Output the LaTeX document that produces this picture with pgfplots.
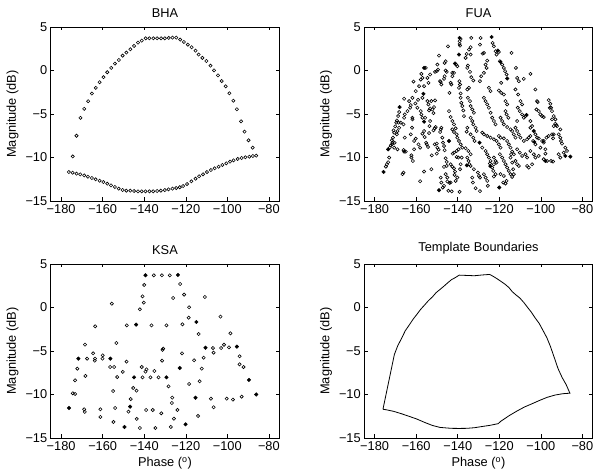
\documentclass[border=0pt]{standalone}
\usepackage{fontspec}
\setmainfont{Liberation Sans}
\usepackage{pgfplots}
\pgfplotsset{compat=1.18}

\pgfplotsset{
  mat/.style={
    scale only axis, width=228.5pt, height=174pt, anchor=south west,
    xmin=-185, xmax=-75, ymin=-15, ymax=5,
    xtick={-180,-160,-140,-120,-100,-80},
    xticklabels={−180,−160,−140,−120,−100,−80},
    ytick={-15,-10,-5,0,5},
    yticklabels={−15,−10,−5,0,5},
    xtick pos=both, ytick pos=both,
    tick align=inside, major tick length=3.5pt,
    tick style={black, line width=0.5pt},
    axis line style={black, line width=0.8pt},
    ticklabel style={font=\fontsize{12.8}{15}\selectfont},
    label style={font=\fontsize{12.8}{15}\selectfont},
    title style={font=\fontsize{12.8}{15}\selectfont},
    ylabel={Magnitude (dB)},
  },
  dots/.style={only marks, mark=o, mark size=1.6pt,
    mark options={black, line width=0.6pt}},
  fdots/.style={only marks, mark=*, mark size=1.8pt,
    mark options={black, fill=black}},
}

\begin{document}
\begin{tikzpicture}
\useasboundingbox (0,0) rectangle (597pt,470pt);

% ---------------- BHA
\begin{axis}[mat, at={(50.75pt,269pt)}, title={BHA}]
\addplot[dots] coordinates {
(-174.4,-9.88) (-172.6,-7.50) (-170.7,-5.44) (-168.9,-4.41) (-167.0,-3.53)
(-165.2,-2.65) (-163.3,-2.00) (-161.5,-1.35) (-159.6,-0.77) (-157.8,-0.20)
(-155.9,0.30) (-154.1,0.79) (-152.2,1.21) (-150.4,1.71) (-148.6,2.06)
(-146.7,2.44) (-144.9,2.82) (-143.0,3.20) (-141.2,3.43) (-139.3,3.70)
(-137.5,3.70) (-135.6,3.70) (-133.8,3.70) (-131.9,3.70) (-130.1,3.70)
(-128.2,3.74) (-126.4,3.78) (-124.6,3.78) (-122.7,3.55) (-120.9,3.28)
(-119.0,2.97) (-117.2,2.67) (-115.3,2.28) (-113.8,1.83) (-112.0,1.45)
(-110.1,1.09) (-108.1,0.55) (-106.4,0.02) (-104.5,-0.56) (-102.7,-1.21)
(-100.8,-1.82) (-99.0,-2.62) (-97.1,-3.47) (-95.4,-4.46) (-93.4,-5.84)
(-91.7,-7.03) (-89.8,-8.02) (-87.8,-8.87) (-86.1,-9.79)
};
\addplot[dots] coordinates {
(-176.3,-11.67) (-174.5,-11.75) (-172.6,-11.86) (-170.8,-11.94) (-168.9,-12.06)
(-167.1,-12.21) (-165.2,-12.36) (-163.4,-12.51) (-161.5,-12.67) (-159.7,-12.82)
(-157.8,-13.01) (-156.0,-13.20) (-154.1,-13.39) (-152.3,-13.58) (-150.4,-13.74)
(-148.6,-13.81) (-146.7,-13.81) (-144.9,-13.85) (-143.0,-13.89) (-141.2,-13.89)
(-139.4,-13.89) (-137.5,-13.89) (-135.7,-13.89) (-133.8,-13.85) (-132.0,-13.81)
(-130.1,-13.74) (-128.3,-13.66) (-126.4,-13.58) (-124.6,-13.51) (-122.9,-13.42)
(-121.3,-13.28) (-119.4,-13.05) (-117.3,-12.74) (-115.3,-12.44) (-113.6,-12.16)
(-111.7,-11.93) (-109.8,-11.67) (-107.9,-11.44) (-106.1,-11.24) (-104.2,-11.06)
(-102.4,-10.86) (-100.5,-10.67) (-98.7,-10.48) (-97.0,-10.33) (-95.0,-10.17)
(-93.1,-10.06) (-91.3,-9.98) (-89.4,-9.91) (-87.7,-9.83)
};
\end{axis}

% ---------------- FUA
\begin{axis}[mat, at={(364.25pt,269pt)}, title={FUA}]
\addplot[dots] coordinates {
(-174.6,-11.05) (-174.1,-10.78) (-173.5,-10.55) (-173.0,-10.01) (-172.7,-8.87)
(-172.2,-8.60) (-171.7,-8.03) (-171.2,-7.72) (-170.6,-7.15) (-170.9,-6.88)
(-170.1,-6.42) (-169.6,-6.00) (-169.3,-5.74) (-168.7,-5.24) (-168.2,-4.78)
(-169.0,-9.06) (-170.6,-8.87) (-171.6,-8.49) (-171.4,-8.30) (-170.4,-8.30)
(-169.3,-7.34) (-169.0,-6.96) (-168.2,-6.58) (-168.5,-6.00) (-167.4,-6.00)
(-166.6,-11.92) (-166.1,-11.73) (-166.1,-9.14) (-165.8,-9.33) (-165.0,-9.33)
(-165.5,-7.72) (-166.1,-6.19) (-165.8,-5.43) (-165.5,-5.05) (-165.8,-3.25)
(-162.6,-3.98) (-163.4,-3.52) (-164.2,-4.67) (-162.9,-4.28) (-161.8,-5.43)
(-161.8,-5.62) (-162.0,-6.58) (-162.6,-7.34) (-162.3,-9.75) (-162.3,-10.01)
(-161.6,-10.40) (-161.0,-9.06) (-161.0,-8.10) (-161.8,-3.14) (-161.3,-1.27)
(-160.2,-2.37) (-160.4,-3.79) (-159.4,-4.28) (-159.1,-3.37) (-158.6,-1.80)
(-157.8,-1.04) (-157.5,-0.39) (-157.0,-0.85) (-156.2,-1.80) (-157.0,-3.14)
(-157.8,-4.67) (-157.5,-5.05) (-157.0,-5.43) (-155.7,-5.43) (-156.2,-6.96)
(-157.0,-7.26) (-155.9,-7.65) (-155.2,-8.30) (-154.9,-8.49) (-154.3,-8.79)
(-153.8,-7.19) (-156.2,-11.62) (-158.1,-12.73) (-160.2,-7.84) (-158.9,-8.49)
(-158.1,-8.87) (-154.6,-3.52) (-154.1,-3.90) (-153.8,-4.59) (-153.3,-4.36)
(-153.3,-5.81) (-153.6,-6.39) (-155.4,0.30) (-154.6,-0.85) (-154.1,-1.42)
(-153.3,-0.46)
(-152.7,-3.52) (-152.2,-4.48) (-151.7,-4.90) (-151.4,-4.21) (-150.9,-3.44)
(-150.9,-0.16) (-150.1,-0.08) (-149.8,0.68) (-149.0,1.71) (-149.5,0.11)
(-148.5,-1.23) (-148.2,-1.34) (-147.9,-1.61) (-146.6,-0.96) (-146.3,-0.66)
(-145.8,-0.01) (-145.3,-0.16) (-146.3,0.87) (-145.8,1.06) (-151.1,-6.65)
(-151.7,-6.88) (-150.6,-6.50) (-151.1,-8.49) (-150.1,-8.41) (-149.8,-8.87)
(-149.2,-9.10) (-148.5,-7.07) (-148.2,-6.77) (-147.9,-6.58) (-147.4,-7.72)
(-147.1,-8.30) (-146.6,-8.68) (-146.3,-9.17) (-152.5,-9.75) (-150.1,-9.56)
(-152.7,-11.35) (-148.2,-12.31) (-147.9,-12.88) (-147.2,-13.45) (-146.6,-13.26)
(-145.8,-11.92) (-145.3,-10.97) (-145.3,-10.51) (-146.6,-11.08) (-145.8,-10.09)
(-145.0,-12.76) (-145.0,-12.31)
(-144.7,2.78) (-144.0,-2.57) (-143.4,-1.42) (-143.1,-1.61) (-142.6,-0.27)
(-142.6,-0.66) (-141.8,-0.27) (-140.7,0.68) (-140.2,0.49) (-139.1,3.05)
(-139.1,3.36) (-138.6,3.62) (-138.9,2.86) (-139.2,-1.23) (-138.9,-1.61)
(-139.4,-1.99) (-138.6,-2.64) (-138.6,-3.14) (-138.3,-3.71) (-137.8,-4.09)
(-137.3,-4.59) (-137.0,-5.24) (-144.2,-4.67) (-143.4,-5.35) (-142.6,-5.81)
(-141.8,-6.19) (-141.0,-6.65) (-142.6,-6.77) (-141.8,-7.07) (-140.5,-7.34)
(-140.2,-7.72) (-139.4,-8.10) (-138.6,-8.49) (-137.8,-8.87) (-139.6,-9.06)
(-140.5,-9.25) (-141.8,-9.44) (-142.4,-9.56) (-143.4,-10.78) (-142.6,-11.05)
(-141.8,-11.24) (-141.3,-11.62) (-141.5,-12.00) (-144.0,-12.92) (-143.4,-12.88)
(-141.0,-12.69) (-140.2,-12.31) (-138.9,-11.35) (-138.6,-10.78) (-138.1,-10.01)
(-140.5,-9.94) (-139.7,-10.01) (-142.9,-13.90) (-139.1,-13.95) (-144.5,-13.83)
(-136.2,1.45) (-135.7,1.90) (-134.6,2.40) (-133.8,2.67) (-133.5,3.74)
(-133.8,1.83) (-135.1,0.57) (-135.4,0.30) (-134.1,-0.16) (-133.5,-0.77)
(-132.5,-1.15) (-135.4,-2.18) (-134.6,-1.99) (-135.1,-3.14) (-134.1,-3.52)
(-133.8,-4.09) (-133.0,-4.48) (-132.2,-4.86) (-133.8,-5.43) (-133.0,-5.81)
(-132.5,-6.19) (-131.4,-6.58) (-130.9,-6.96) (-135.4,-6.58) (-135.7,-7.03)
(-133.8,-7.34) (-132.5,-7.72) (-131.9,-8.10) (-136.2,-8.94) (-134.9,-9.25)
(-133.8,-9.63) (-135.4,-10.01) (-134.8,-10.40) (-134.4,-10.78) (-133.8,-10.97)
(-132.2,-11.35) (-133.0,-12.31) (-132.7,-12.88) (-130.3,-11.73) (-129.8,-12.12)
(-129.3,-12.31) (-131.4,-13.53) (-129.3,-13.87)
(-129.3,2.97) (-129.0,3.74) (-128.0,1.94) (-127.4,2.02) (-126.6,0.68)
(-125.8,1.14) (-126.1,0.30) (-129.3,-1.23) (-128.7,-0.66) (-127.4,-0.27)
(-125.0,-1.99) (-124.2,-2.37) (-123.2,3.17) (-122.6,2.78) (-121.8,2.21)
(-121.3,1.83) (-127.4,-3.14) (-126.6,-3.52) (-125.8,-3.90) (-125.0,-4.28)
(-124.2,-4.86) (-123.4,-5.43) (-122.6,-5.81) (-121.8,-6.19) (-128.2,-7.15)
(-127.4,-7.34) (-125.8,-7.53) (-124.2,-7.72) (-122.6,-7.91) (-121.3,-8.10)
(-128.2,-8.87) (-126.6,-9.25) (-125.8,-9.63) (-125.0,-10.01) (-124.2,-10.40)
(-124.5,-10.70) (-123.4,-11.16) (-122.9,-11.54) (-127.4,-11.92) (-126.6,-12.31)
(-125.8,-12.69) (-125.5,-13.26) (-122.6,-10.01) (-121.8,-10.40) (-121.3,-10.59)
(-122.6,-12.19) (-121.8,-11.92) (-122.6,-10.78)
(-120.2,2.13) (-119.7,1.06) (-118.6,0.68) (-117.8,0.30) (-117.2,-0.08)
(-116.5,-0.46) (-119.1,-1.42) (-120.2,-2.30) (-119.1,-2.57) (-117.8,-2.76)
(-117.0,-3.52) (-116.2,-3.90) (-117.0,-4.67) (-116.5,-5.05) (-115.6,-5.43)
(-119.4,-5.43) (-118.6,-5.81) (-117.8,-6.19) (-116.2,-6.50) (-114.6,-6.77)
(-113.8,-6.96) (-120.2,-7.53) (-119.4,-7.72) (-117.8,-7.80) (-116.2,-8.10)
(-115.4,-8.49) (-114.6,-8.87) (-113.8,-9.33) (-113.0,-9.63) (-120.2,-8.49)
(-119.4,-8.87) (-119.7,-9.63) (-118.6,-10.01) (-117.8,-10.40) (-117.0,-10.78)
(-116.2,-11.16) (-115.4,-11.54) (-114.6,-11.92) (-119.4,-11.92) (-117.8,-12.12)
(-116.5,-12.69) (-118.1,-12.88) (-117.0,-12.99) (-113.8,-12.23) (-113.0,-11.92)
(-113.3,-11.35) (-113.8,-10.59) (-114.6,-10.01) (-114.3,-9.63) (-114.1,2.02)
(-112.0,0.30)
(-111.4,-0.85) (-110.6,-1.23) (-108.2,-0.96) (-112.2,-2.18) (-110.9,-2.76)
(-109.8,-3.52) (-109.0,-3.90) (-111.1,-4.28) (-110.1,-4.67) (-109.0,-5.05)
(-108.2,-5.43) (-107.4,-5.24) (-112.2,-6.58) (-111.4,-6.96) (-110.6,-7.34)
(-109.8,-7.72) (-108.2,-8.10) (-106.6,-7.91) (-105.8,-7.72) (-105.0,-7.53)
(-111.4,-9.06) (-110.1,-9.44) (-109.0,-9.82) (-107.4,-9.63) (-106.6,-10.01)
(-112.2,-10.40) (-111.4,-10.78) (-110.6,-10.97) (-106.6,-10.97) (-105.8,-11.16)
(-111.4,-5.81) (-113.0,-7.34) (-112.2,-7.72)
(-105.0,-0.39) (-102.6,-2.18) (-101.8,-3.52) (-101.5,-3.63) (-102.1,-4.48)
(-101.0,-4.67) (-100.2,-5.05) (-99.4,-5.24) (-98.6,-5.35) (-105.0,-5.81)
(-104.2,-6.39) (-102.6,-7.34) (-101.8,-7.72) (-101.0,-7.80) (-99.4,-8.10)
(-98.6,-8.30) (-103.7,-8.10) (-102.6,-8.49) (-105.0,-9.25) (-103.4,-9.63)
(-102.6,-10.01) (-100.2,-8.87) (-97.8,-9.06) (-97.8,-9.56) (-101.0,-9.82)
(-104.2,-10.78) (-98.6,-10.20) (-98.6,-8.10) (-105.0,-6.58)
(-96.2,-3.41) (-95.4,-3.83) (-94.6,-4.67) (-93.8,-5.24) (-93.0,-5.62)
(-92.5,-6.27) (-94.6,-5.62) (-97.3,-7.72) (-96.2,-7.53) (-94.6,-7.34)
(-93.8,-6.39) (-93.0,-6.12) (-93.8,-7.34) (-91.4,-7.34) (-90.6,-7.72)
(-90.3,-8.10) (-89.8,-8.41) (-91.4,-9.63) (-90.6,-10.01) (-89.0,-9.44)
(-88.2,-8.87) (-87.4,-9.25) (-92.2,-6.39) (-90.6,-6.77) (-94.1,-7.80)
(-97.0,-10.40) (-95.1,-10.40) (-94.1,-10.47) (-95.7,-4.29) (-95.1,-4.28)
};
\addplot[fdots] coordinates {
(-175.7,-11.66) (-173.5,-9.06) (-168.0,-4.21) (-156.2,0.30) (-156.5,-2.68)
(-156.2,-5.89) (-141.3,0.80) (-139.4,1.83) (-139.1,3.74) (-123.7,3.85)
(-120.7,2.29) (-119.4,0.99) (-116.2,-0.92) (-106.9,-5.12) (-103.4,-6.96)
(-103.1,-8.22) (-97.8,-10.40) (-88.2,-9.82) (-85.8,-9.90) (-120.0,-13.45)
(-149.0,-13.76) (-144.2,-8.1) (-135.6,-10.9) (-124.3,-11.0) (-129.5,-8.3)
};
\end{axis}

% ---------------- KSA
\begin{axis}[mat, at={(50.75pt,32pt)}, title={KSA}, xlabel={Phase (\textsuperscript{o})}]
\addplot[dots] coordinates {
(-135.4,3.70) (-131.5,3.70) (-127.7,3.70)
(-140.0,2.59) (-140.8,1.28) (-140.2,0.56) (-142.1,-0.21)
(-122.7,2.70) (-126.1,1.09) (-120.8,1.48) (-110.8,1.21) (-155.6,0.44)
(-148.4,-2.05) (-136.5,-2.05) (-129.3,-2.05) (-163.6,-2.16)
(-153.4,-4.08) (-168.5,-4.27) (-130.9,-4.73) (-131.2,-4.88)
(-164.6,-5.27) (-160.0,-5.50) (-167.5,-5.88) (-163.8,-6.11) (-163.7,-5.88)
(-160.1,-5.88) (-131.4,-6.11) (-148.5,-6.22) (-156.4,-6.84) (-154.5,-6.84)
(-141.2,-6.84) (-172.2,-7.03) (-138.9,-7.11) (-139.4,-7.37) (-135.1,-7.30)
(-150.3,-7.40) (-168.3,-7.87) (-173.3,-8.37) (-153.0,-7.99) (-140.8,-8.03)
(-137.0,-8.03) (-133.1,-8.03) (-128.3,-9.06) (-145.3,-9.25) (-143.7,-9.56)
(-155.0,-9.60) (-174.4,-9.86) (-173.3,-9.94) (-126.5,-10.36) (-146.5,-10.52)
(-126.7,-10.98) (-154.0,-11.55) (-168.9,-11.70) (-161.1,-11.70) (-168.6,-12.00)
(-147.6,-11.97) (-139.1,-11.78) (-135.9,-11.78) (-124.0,-11.78) (-131.8,-12.16)
(-161.1,-12.58) (-143.6,-12.81) (-125.7,-12.78) (-154.8,-13.16) (-127.2,-13.73)
(-142.1,-13.85) (-134.6,-13.85)
(-118.4,0.02) (-118.6,-1.17) (-121.6,-1.93) (-103.3,-1.05) (-113.8,-3.05)
(-98.5,-2.97) (-106.9,-4.66) (-103.0,-4.66) (-101.6,-4.28) (-99.2,-4.58)
(-106.6,-5.19) (-121.8,-5.27) (-111.4,-5.77) (-94.1,-5.61) (-116.0,-6.07)
(-94.1,-6.53) (-92.2,-6.84) (-112.3,-7.03) (-113.3,-8.48) (-118.4,-8.79)
(-107.9,-10.48) (-100.3,-10.48) (-97.3,-10.59) (-93.1,-10.25) (-106.6,-11.47)
(-114.1,-12.47)
};
\addplot[fdots] coordinates {
(-139.4,3.70) (-123.8,3.74) (-143.9,-1.97) (-114.9,-1.67) (-110.5,-4.62)
(-95.4,-4.50) (-171.7,-5.88) (-156.3,-5.88) (-122.9,-6.95) (-144.9,-8.03)
(-129.3,-8.03) (-115.3,-10.37) (-146.8,-11.40) (-176.2,-11.55) (-149.5,-13.73)
(-120.1,-13.43) (-89.6,-8.33) (-86.1,-10.00)
};
\end{axis}

% ---------------- Template Boundaries
\begin{axis}[mat, at={(364.25pt,32pt)}, title={Template Boundaries}, xlabel={Phase (\textsuperscript{o})}]
\addplot[black, line width=0.8pt] coordinates {
(-176.0,-11.70) (-170.5,-5.40) (-168.9,-4.41) (-167.0,-3.53)
(-165.2,-2.65) (-163.3,-2.00) (-161.5,-1.35) (-159.6,-0.77) (-157.8,-0.20)
(-155.9,0.30) (-154.1,0.79) (-152.2,1.21) (-150.4,1.71) (-148.6,2.06)
(-146.7,2.44) (-144.9,2.82) (-143.0,3.20) (-141.2,3.43) (-139.3,3.72)
(-132.0,3.65) (-128.2,3.74) (-124.6,3.80) (-122.7,3.55) (-120.9,3.28)
(-119.0,2.97) (-117.2,2.67) (-115.3,2.28) (-113.8,1.83) (-112.0,1.45)
(-110.1,1.09) (-108.1,0.55) (-106.4,0.02) (-104.5,-0.56) (-102.7,-1.21)
(-100.8,-1.82) (-99.0,-2.62) (-97.1,-3.47) (-95.4,-4.46) (-93.4,-5.84)
(-91.7,-7.03) (-89.8,-8.02) (-87.8,-8.87) (-86.0,-9.85)
(-89.4,-9.91) (-93.1,-10.06) (-97.0,-10.33) (-100.5,-10.67) (-104.2,-11.06)
(-107.9,-11.44) (-111.7,-11.93) (-115.3,-12.44) (-119.4,-13.10) (-120.5,-13.35)
(-124.6,-13.55) (-128.3,-13.68) (-132.0,-13.82) (-135.7,-13.89) (-139.4,-13.90)
(-143.0,-13.89) (-146.7,-13.82) (-148.6,-13.78) (-152.3,-13.55) (-156.0,-13.20)
(-159.7,-12.82) (-163.4,-12.51) (-167.1,-12.21) (-170.8,-11.94) (-174.5,-11.75)
(-176.0,-11.70)
};
\end{axis}
\end{tikzpicture}
\end{document}
